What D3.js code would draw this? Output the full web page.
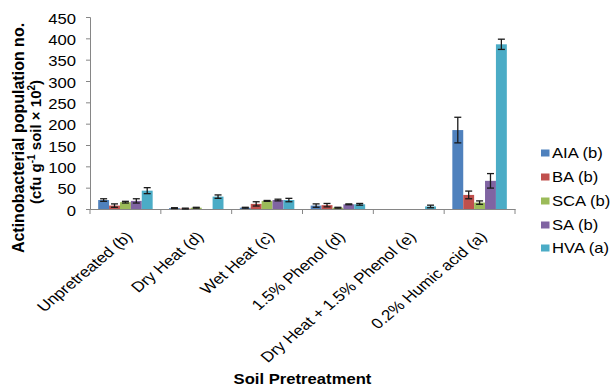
<!DOCTYPE html>
<html><head><meta charset="utf-8">
<script src="https://cdn.jsdelivr.net/npm/d3@7"></script>
<style>body{margin:0;background:#fff}svg{display:block}text{font-family:"Liberation Sans",Arial,sans-serif;fill:#000}</style>
</head><body><svg id="c" width="610" height="387"></svg>
<script>
const categories = ["Unpretreated (b)", "Dry Heat (d)", "Wet Heat (c)", "1.5% Phenol (d)", "Dry Heat + 1.5% Phenol (e)", "0.2% Humic acid (a)"];
const seriesNames = ["AIA (b)", "BA (b)", "SCA (b)", "SA (b)", "HVA (a)"];
const colors = ["#4F81BD", "#C0504D", "#9BBB59", "#8064A2", "#4BACC6"];
const AIA = [21, 2, 3, 8, 0, 185];
const BA = [8, 1, 12, 9, 0, 33];
const SCA = [16, 3, 19, 3, 0, 15];
const SA = [19, 0, 21, 11, 0, 66];
const HVA = [43, 29, 21, 11, 6, 386];
const AIAerr = [3, 1, 1, 4, 0, 30];
const BAerr = [4, 1, 5, 4, 0, 9];
const SCAerr = [2, 1, 1, 1, 0, 4];
const SAerr = [5, 0, 2, 1, 0, 17];
const HVAerr = [7, 4, 4, 2, 3, 12];
const yTicks = [0, 50, 100, 150, 200, 250, 300, 350, 400, 450];

const values = [AIA, BA, SCA, SA, HVA];
const errors = [AIAerr, BAerr, SCAerr, SAerr, HVAerr];
const SX = 1.19; // horizontal stretch of text in the reference
const svg = d3.select("#c");
const L = 90, R = 515, T = 17, B = 209;
const x = d3.scaleBand().domain(categories).range([L, R]).paddingInner(0).paddingOuter(0);
const xs = d3.scaleBand().domain(seriesNames).range([0, x.bandwidth()]).paddingInner(0).paddingOuter(0.75);
const y = d3.scaleLinear().domain([0, 450]).range([B, T]);
const axisCol = "#868686";

// y axis
const ya = svg.append("g").attr("transform", `translate(${L},0)`)
  .call(d3.axisLeft(y).tickValues(yTicks).tickSize(4).tickPadding(0).tickFormat(d3.format("d")));
ya.select(".domain").attr("stroke", axisCol);
ya.selectAll(".tick line").attr("stroke", axisCol);
ya.selectAll(".tick text").attr("font-size", 14).attr("x", 0).attr("dy", "0.36em")
  .attr("transform", `translate(-14,1) scale(${SX},1)`).attr("font-family", '"Liberation Sans",Arial,sans-serif').attr("fill", "#000");

// x axis
const xa = svg.append("g").attr("transform", `translate(0,${B})`)
  .call(d3.axisBottom(x).tickSize(0).tickFormat(""));
xa.select(".domain").attr("stroke", axisCol);
xa.selectAll(".tick").remove();
const bounds = categories.map(c => x(c)).concat([R]);
xa.selectAll("line.bt").data(bounds).enter().append("line").attr("class", "bt")
  .attr("x1", d => d).attr("x2", d => d).attr("y1", 0).attr("y2", 5).attr("stroke", axisCol);

// bars
categories.forEach((c, ci) => {
  seriesNames.forEach((s, si) => {
    const v = values[si][ci];
    svg.append("rect").attr("x", x(c) + xs(s)).attr("width", xs.bandwidth())
      .attr("y", y(v)).attr("height", B - y(v)).attr("fill", colors[si]);
  });
});
// error bars
categories.forEach((c, ci) => {
  seriesNames.forEach((s, si) => {
    const v = values[si][ci], e = errors[si][ci];
    if (v === 0 && e === 0) return;
    const cx = x(c) + xs(s) + xs.bandwidth() / 2;
    const g = svg.append("g").attr("stroke", "#1a1a1a").attr("stroke-width", 1.3);
    g.append("line").attr("x1", cx).attr("x2", cx).attr("y1", y(v + e)).attr("y2", y(Math.max(0, v - e)));
    g.append("line").attr("x1", cx - 3.5).attr("x2", cx + 3.5).attr("y1", y(v + e)).attr("y2", y(v + e));
    g.append("line").attr("x1", cx - 3.5).attr("x2", cx + 3.5).attr("y1", y(Math.max(0, v - e))).attr("y2", y(Math.max(0, v - e)));
  });
});

// category labels
svg.append("g").selectAll("text").data(categories).enter().append("text")
  .attr("transform", d => `translate(${x(d) + x.bandwidth() / 2 + 4},${B + 25}) scale(${SX},1) rotate(-45)`)
  .attr("text-anchor", "end").attr("dy", "0.35em").attr("font-size", 14.5).text(d => d);

// x title
svg.append("text").attr("transform", `translate(${(L + R) / 2},384) scale(${SX},1)`)
  .attr("text-anchor", "middle").attr("font-size", 14).attr("font-weight", "bold").text("Soil Pretreatment");

// y title
const yt = svg.append("g").attr("transform", `translate(0,138)`);
yt.append("text").attr("transform", `translate(24,0) rotate(-90)`).attr("text-anchor", "middle")
  .attr("font-size", 16).attr("font-weight", "bold").text("Actinobacterial population no.");
const t2 = yt.append("text").attr("transform", `translate(41,4) rotate(-90)`).attr("text-anchor", "middle")
  .attr("font-size", 15).attr("font-weight", "bold");
t2.append("tspan").text("(cfu g");
t2.append("tspan").attr("font-size", 10).attr("dy", -6).text("-1");
t2.append("tspan").attr("dy", 6).text(" soil × 10");
t2.append("tspan").attr("font-size", 10).attr("dy", -6).text("2");
t2.append("tspan").attr("dy", 6).text(")");

// legend
const lg = svg.append("g");
const ly = [153, 177, 201, 225, 248];
seriesNames.forEach((s, i) => {
  lg.append("rect").attr("x", 541).attr("y", ly[i] - 3.5).attr("width", 8.5).attr("height", 7).attr("fill", colors[i]);
  lg.append("text").attr("transform", `translate(552,${ly[i]}) scale(${SX},1)`).attr("dy", "0.36em")
    .attr("font-size", 14).text(s);
});
</script></body></html>
